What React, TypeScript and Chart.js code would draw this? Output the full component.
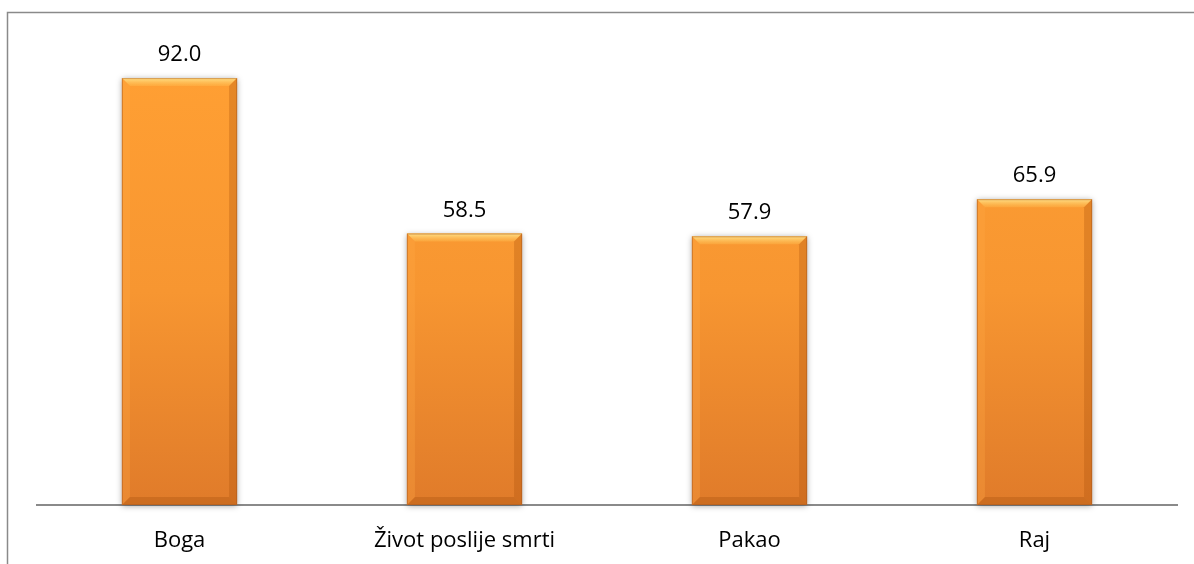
import React, { useEffect, useRef } from "react";
import { Chart, registerables } from "chart.js";

Chart.register(...registerables);

const categories = ["Boga", "Život poslije smrti", "Pakao", "Raj"];
const values = [92.0, 58.5, 57.9, 65.9];
const valueLabels = ["92.0", "58.5", "57.9", "65.9"];

const FONT = "'Open Sans', sans-serif";

const framePlugin = {
  id: "frame",
  beforeDraw(chart: any) {
    const ctx = chart.ctx;
    ctx.save();
    ctx.fillStyle = "#ffffff";
    ctx.fillRect(0, 0, chart.width, chart.height);
    ctx.strokeStyle = "#8a8a8a";
    ctx.lineWidth = 1.5;
    ctx.beginPath();
    ctx.moveTo(7.5, chart.height + 2);
    ctx.lineTo(7.5, 12.5);
    ctx.lineTo(chart.width + 2, 12.5);
    ctx.stroke();
    ctx.restore();
  },
};

const bevelPlugin = {
  id: "bevel",
  beforeDatasetsDraw(chart: any) {
    const ctx = chart.ctx;
    const meta = chart.getDatasetMeta(0);
    ctx.save();
    meta.data.forEach((bar: any) => {
      const w = bar.width;
      const left = bar.x - w / 2;
      const top = bar.y;
      const h = bar.base - bar.y;
      ctx.shadowColor = "rgba(0,0,0,0.35)";
      ctx.shadowBlur = 6;
      ctx.shadowOffsetX = 0;
      ctx.shadowOffsetY = 1;
      ctx.fillStyle = "#e88a2c";
      ctx.fillRect(left, top, w, h);
    });
    ctx.restore();
  },
  afterDatasetsDraw(chart: any) {
    const ctx = chart.ctx;
    const meta = chart.getDatasetMeta(0);
    ctx.save();
    meta.data.forEach((bar: any, i: number) => {
      const w = bar.width;
      const l = bar.x - w / 2;
      const r = bar.x + w / 2;
      const t = bar.y;
      const b = bar.base;
      const s = 8;
      const gt = ctx.createLinearGradient(0, t, 0, t + s);
      gt.addColorStop(0, "rgba(255,228,140,0.95)");
      gt.addColorStop(1, "rgba(255,190,80,0.35)");
      ctx.fillStyle = gt;
      ctx.beginPath();
      ctx.moveTo(l, t);
      ctx.lineTo(r, t);
      ctx.lineTo(r - s, t + s);
      ctx.lineTo(l + s, t + s);
      ctx.closePath();
      ctx.fill();
      ctx.fillStyle = "rgba(255,170,70,0.3)";
      ctx.beginPath();
      ctx.moveTo(l, t);
      ctx.lineTo(l + s, t + s);
      ctx.lineTo(l + s, b - s);
      ctx.lineTo(l, b);
      ctx.closePath();
      ctx.fill();
      ctx.fillStyle = "rgba(170,80,10,0.3)";
      ctx.beginPath();
      ctx.moveTo(r, t);
      ctx.lineTo(r - s, t + s);
      ctx.lineTo(r - s, b - s);
      ctx.lineTo(r, b);
      ctx.closePath();
      ctx.fill();
      ctx.fillStyle = "rgba(160,75,10,0.3)";
      ctx.beginPath();
      ctx.moveTo(l, b);
      ctx.lineTo(l + s, b - s);
      ctx.lineTo(r - s, b - s);
      ctx.lineTo(r, b);
      ctx.closePath();
      ctx.fill();
      ctx.strokeStyle = "rgba(170,90,30,0.5)";
      ctx.lineWidth = 1;
      ctx.strokeRect(l + 0.5, t + 0.5, w - 1, b - t - 1);
      ctx.fillStyle = "#000000";
      ctx.font = `22px ${FONT}`;
      ctx.textAlign = "center";
      ctx.textBaseline = "alphabetic";
      ctx.fillText(valueLabels[i], bar.x, t - 17);
    });
    ctx.restore();
  },
};

export default function App() {
  const ref = useRef<HTMLCanvasElement>(null);
  useEffect(() => {
    const canvas = ref.current!;
    const ctx = canvas.getContext("2d")!;
    const grad = ctx.createLinearGradient(0, 78, 0, 505);
    grad.addColorStop(0, "#ff9f33");
    grad.addColorStop(0.5, "#f79631");
    grad.addColorStop(1, "#e07b2a");
    const chart = new Chart(canvas, {
      type: "bar",
      data: {
        labels: categories,
        datasets: [
          {
            data: values,
            backgroundColor: grad,
            borderWidth: 0,
            barPercentage: 0.404,
            categoryPercentage: 1,
          },
        ],
      },
      options: {
        animation: false,
        responsive: false,
        devicePixelRatio: 1,
        layout: { padding: { left: 37, right: 17, top: 41, bottom: 11 } },
        plugins: { legend: { display: false }, tooltip: { enabled: false } },
        scales: {
          y: { display: false, min: 0, max: 100 },
          x: {
            grid: { display: false, drawTicks: false },
            border: { display: true, color: "#8a8a8a", width: 2 },
            ticks: {
              color: "#000000",
              font: { family: FONT, size: 22 },
              padding: 23,
              maxRotation: 0,
            },
            afterFit(scale: any) {
              scale.height = 48;
            },
          },
        },
      },
      plugins: [framePlugin, bevelPlugin],
    });
    return () => chart.destroy();
  }, []);
  return (
    <div style={{ position: "fixed", left: 0, top: 0, width: 1194, height: 564 }}>
      <canvas ref={ref} width={1194} height={564} />
    </div>
  );
}
